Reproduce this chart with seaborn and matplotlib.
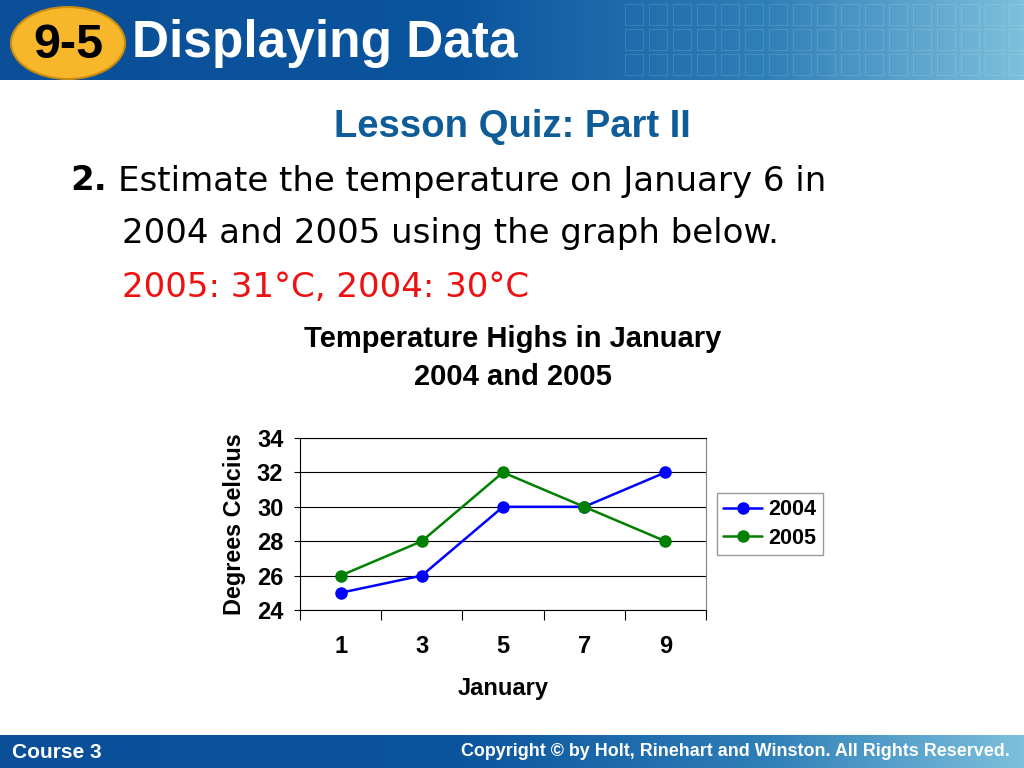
import numpy as np
import pandas as pd
import matplotlib.pyplot as plt
import matplotlib.patches as mpatches
from matplotlib.colors import LinearSegmentedColormap
import seaborn as sns

# Chart data
days = [1, 3, 5, 7, 9]
temps_2004 = [25, 26, 30, 30, 32]
temps_2005 = [26, 28, 32, 30, 28]
y_ticks = [24, 26, 28, 30, 32, 34]

df = pd.DataFrame({
    "Day": days * 2,
    "Temp": temps_2004 + temps_2005,
    "Year": ["2004"] * len(days) + ["2005"] * len(days),
})

sns.set_theme(style="white")
plt.rcParams["font.family"] = ["Liberation Sans", "DejaVu Sans"]
plt.rcParams["text.color"] = "black"
plt.rcParams["axes.labelcolor"] = "black"
plt.rcParams["xtick.color"] = "black"
plt.rcParams["ytick.color"] = "black"

W, H = 1024, 768
fig = plt.figure(figsize=(W / 100, H / 100), dpi=100)
fig.patch.set_facecolor("white")


def px(x, y):
    return x / W, 1 - y / H


# -----------------------------
# Header and footer banners
# -----------------------------
band_cmap = LinearSegmentedColormap.from_list(
    "band", [(0, "#0a4f98"), (0.45, "#0b559e"), (0.75, "#2f7fb8"), (1, "#7cc0dc")]
)
grad = np.linspace(0, 1, 256).reshape(1, -1)

top = fig.add_axes([0, 1 - 80 / H, 1, 80 / H])
top.imshow(grad, aspect="auto", cmap=band_cmap, extent=[0, W, 80, 0])
for col in range(17):
    for row in range(3):
        x0 = 625 + col * 24
        top.add_patch(mpatches.Rectangle((x0, 4 + row * 25), 18, 21, fill=False,
                                         ec="white", lw=0.8, alpha=0.12))
top.add_patch(mpatches.Ellipse((68, 43), 114, 72, fc="#f8b62a", ec="#c98a10", lw=1.5))
top.text(68, 45, "9-5", ha="center", va="center", fontsize=35, fontweight="bold", color="black")
top.text(132, 44, "Displaying Data", ha="left", va="center", fontsize=37,
         fontweight="bold", color="white")
top.set_xlim(0, W)
top.set_ylim(80, 0)
top.axis("off")

bot = fig.add_axes([0, 0, 1, 33 / H])
bot.imshow(grad, aspect="auto", cmap=band_cmap, extent=[0, W, 33, 0])
bot.text(12, 17, "Course 3", ha="left", va="center", fontsize=15, fontweight="bold", color="white")
bot.text(1010, 17, "Copyright © by Holt, Rinehart and Winston. All Rights Reserved.",
         ha="right", va="center", fontsize=12.9, fontweight="bold", color="white")
bot.set_xlim(0, W)
bot.set_ylim(33, 0)
bot.axis("off")

# -----------------------------
# Slide text
# -----------------------------
fig.text(*px(512, 127), "Lesson Quiz: Part II", ha="center", va="center",
         fontsize=27.5, fontweight="bold", color="#0f5d98")
fig.text(*px(70, 181), "2.", ha="left", va="center", fontsize=24.5, fontweight="bold",
         family="DejaVu Sans", color="black")
fig.text(*px(118, 181), "Estimate the temperature on January 6 in", ha="left", va="center",
         fontsize=24.5, family="DejaVu Sans", color="black")
fig.text(*px(122, 233), "2004 and 2005 using the graph below.", ha="left", va="center",
         fontsize=24.5, family="DejaVu Sans", color="black")
fig.text(*px(122, 287), "2005: 31°C, 2004: 30°C", ha="left", va="center",
         fontsize=24.5, family="DejaVu Sans", color="#ee1111")

fig.text(*px(513, 339), "Temperature Highs in January", ha="center", va="center",
         fontsize=21, fontweight="bold", color="black")
fig.text(*px(513, 377), "2004 and 2005", ha="center", va="center",
         fontsize=21, fontweight="bold", color="black")

# -----------------------------
# Line chart
# -----------------------------
ax = fig.add_axes([300 / W, 1 - 610 / H, 406 / W, 172 / H])
sns.lineplot(data=df, x="Day", y="Temp", hue="Year", palette=["#0000ff", "#008000"],
             marker="o", markersize=9, markeredgewidth=0, linewidth=1.8, ax=ax)

ax.set_xlim(0, 10)
ax.set_ylim(24, 34)
ax.set_yticks(y_ticks)
ax.set_xticks(range(0, 11, 2))
ax.set_xticklabels([])
ax.set_xticks(days, minor=True)
ax.set_xticklabels([str(d) for d in days], minor=True)
ax.tick_params(axis="x", which="major", direction="out", length=7, width=0.8, colors="black",
               bottom=True)
ax.tick_params(axis="x", which="minor", length=0, pad=18, labelsize=17, labelcolor="black")
ax.tick_params(axis="y", direction="out", length=4, width=0.8, left=True, labelsize=17,
               pad=8, colors="black")
for lab in ax.get_xticklabels(minor=True) + ax.get_yticklabels():
    lab.set_fontweight("bold")

ax.yaxis.grid(True, color="black", linewidth=0.8)
for s in ax.spines.values():
    s.set_color("black")
    s.set_linewidth(0.8)
ax.spines["right"].set_color("#808080")

ax.set_xlabel("January", fontsize=17, fontweight="bold", labelpad=14)
ax.set_ylabel("Degrees Celcius", fontsize=16.8, fontweight="bold", labelpad=8)

leg = ax.legend(loc="center left", bbox_to_anchor=(1.027, 0.5), borderaxespad=0,
                frameon=True, fancybox=False, fontsize=15.5, handlelength=1.8,
                borderpad=0.3, labelspacing=0.35, handletextpad=0.3)
leg.get_frame().set_edgecolor("#808080")
leg.get_frame().set_linewidth(1)
for t in leg.get_texts():
    t.set_fontweight("bold")

fig.savefig("out.png", dpi=100)
